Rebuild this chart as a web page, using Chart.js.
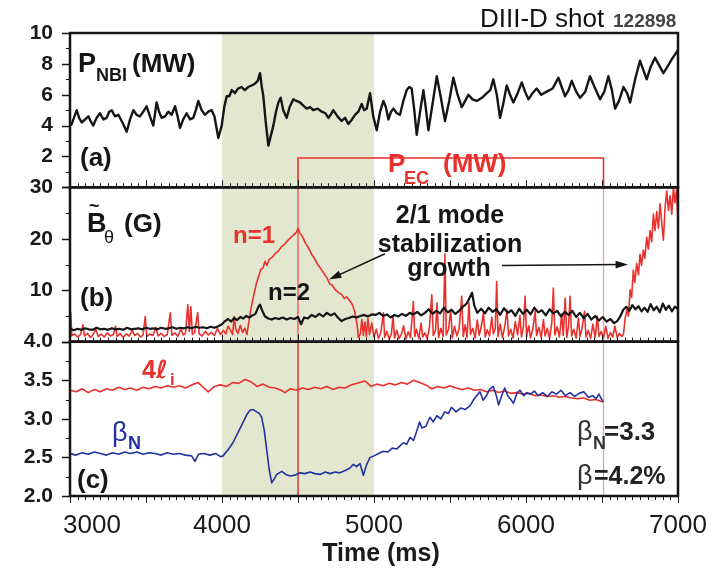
<!DOCTYPE html>
<html lang="en">
<head>
<meta charset="UTF-8">
<title>DIII-D shot 122898</title>
<script src="https://cdn.jsdelivr.net/npm/chart.js@4"></script>
<style>
  body { margin: 0; background: #fff; }
  #wrap { width: 717px; height: 569px; }
</style>
</head>
<body>
<div id="wrap"><canvas id="chart" width="717" height="569"></canvas></div>
<script>
// ---- data (time in ms) ----
const xTickLabels = [3000, 4000, 5000, 6000, 7000];
const shadeSpan = [4000, 5000];
const aTicks = [2, 4, 6, 8, 10];
const bTicks = [10, 20, 30];
const cTicks = [2.0, 2.5, 3.0, 3.5, 4.0];

// (a) neutral beam power, MW
const nbiTime = [3000,3011,3044,3060,3077,3100,3121,3135,3153,3175,3197,3220,3241,3258,3274,3296,3318,3345,3373,3395,3417,3438,3460,3482,3504,3526,3548,3570,3586,3603,3625,3647,3669,3691,3708,3724,3745,3767,3790,3811,3828,3844,3866,3888,3910,3932,3950,3965,3976,3998,4015,4031,4048,4064,4085,4105,4129,4150,4172,4195,4215,4235,4250,4262,4272,4288,4305,4320,4338,4355,4371,4386,4403,4425,4445,4469,4490,4513,4535,4557,4580,4601,4630,4656,4680,4700,4715,4732,4760,4787,4810,4831,4855,4875,4897,4919,4935,4952,4974,4995,5018,5040,5062,5078,5095,5112,5128,5150,5171,5193,5215,5232,5248,5265,5281,5303,5325,5340,5358,5385,5413,5440,5467,5495,5522,5550,5577,5600,5621,5648,5676,5710,5742,5765,5785,5808,5829,5850,5873,5895,5917,5945,5972,5994,6016,6043,6070,6100,6136,6175,6213,6235,6257,6280,6301,6330,6356,6390,6421,6455,6487,6515,6542,6565,6586,6612,6641,6665,6685,6718,6750,6772,6794,6820,6849,6876,6904,6930,6959,6980,7000];
const nbiPower = [4.0,4.1,5.0,4.5,4.2,4.4,4.6,4.3,4.0,4.5,4.8,4.4,4.5,4.9,5.0,4.6,4.7,4.2,3.6,4.4,5.0,4.7,4.6,4.9,5.25,4.6,4.0,5.5,4.9,4.5,4.6,4.9,4.7,5.25,4.6,3.85,4.4,4.8,4.4,4.5,5.0,5.6,5.0,4.7,4.9,5.0,4.6,3.8,3.2,4.0,5.2,5.9,5.9,6.3,6.1,6.4,6.5,6.3,6.5,6.6,6.7,6.9,7.4,6.5,5.9,4.2,2.7,3.3,4.0,4.9,5.5,5.8,5.0,4.5,5.2,5.7,5.6,5.5,5.3,5.1,5.2,5.0,5.1,4.9,4.8,4.5,4.7,5.0,4.6,4.3,4.5,4.1,4.4,4.7,4.9,5.4,5.0,5.1,6.1,4.6,3.7,4.9,5.6,5.2,4.4,4.9,5.1,4.8,4.7,5.6,6.3,6.5,6.4,5.0,3.4,4.9,6.3,5.2,3.7,5.4,7.2,5.8,4.3,5.6,7.1,6.0,5.2,5.6,6.0,5.7,5.6,5.8,6.1,6.3,7.0,6.0,4.5,5.4,6.6,6.0,5.5,6.1,6.8,6.2,5.7,6.1,6.4,6.0,6.2,6.4,7.1,6.5,5.9,6.3,6.9,6.2,5.8,6.2,7.2,6.4,5.7,6.2,7.2,6.3,5.1,5.6,6.5,6.1,5.5,7.0,8.2,7.6,7.0,7.8,8.4,7.9,7.4,7.8,8.3,8.6,8.9];

// (a) ECCD power window, MW
const pecTime = [4500, 4500, 6510, 6510];
const pecPower = [0, 1.9, 1.9, 0];

// (b) n=2 amplitude, G
const n2Time = [3000,3025,3050,3075,3100,3125,3150,3175,3200,3225,3250,3275,3300,3325,3350,3375,3400,3425,3450,3475,3500,3525,3550,3575,3600,3625,3650,3675,3700,3725,3750,3775,3800,3825,3850,3875,3900,3925,3950,3975,4000,4020,4040,4060,4080,4100,4120,4140,4160,4180,4200,4220,4240,4250,4265,4283,4305,4327,4350,4375,4400,4425,4450,4475,4500,4520,4540,4565,4590,4615,4640,4665,4690,4715,4740,4765,4787,4810,4835,4860,4885,4910,4935,4960,4985,5010,5035,5060,5085,5110,5135,5160,5185,5210,5235,5260,5285,5310,5335,5360,5385,5410,5435,5460,5485,5510,5535,5560,5585,5610,5630,5645,5660,5680,5705,5730,5755,5780,5805,5830,5855,5880,5905,5930,5955,5980,6005,6030,6055,6080,6105,6130,6155,6180,6205,6230,6255,6280,6305,6330,6355,6380,6405,6430,6455,6480,6505,6530,6555,6580,6600,6620,6640,6660,6680,6700,6720,6740,6760,6780,6800,6820,6840,6860,6880,6900,6920,6940,6960,6980,7000];
const n2Amp = [2.6,2.2,2.5,2.3,2.6,2.4,2.3,2.7,2.4,2.5,2.3,2.6,2.4,2.5,2.3,2.7,2.4,2.5,2.6,2.4,2.7,2.5,2.6,2.4,2.7,2.5,2.6,2.8,2.5,2.7,2.6,2.8,2.6,2.9,2.7,2.8,2.6,2.9,2.7,3.0,3.4,4.0,4.4,3.9,4.6,4.2,4.8,4.5,5.0,4.7,5.1,5.4,6.8,7.2,6.0,4.9,4.5,4.3,4.6,4.4,4.7,4.3,4.6,4.4,4.8,3.4,4.7,4.5,5.2,4.8,5.4,4.9,5.6,5.1,5.5,4.6,4.0,4.4,4.6,4.9,4.7,5.0,5.2,4.9,5.3,5.2,5.6,5.0,5.3,4.7,5.2,4.9,5.4,5.0,5.6,5.3,5.8,5.1,5.6,6.3,5.4,6.0,5.5,6.6,5.7,6.2,5.4,6.0,6.8,7.4,8.6,9.5,7.0,5.6,6.4,5.5,6.6,5.8,6.3,5.2,6.5,5.6,6.1,5.0,6.4,5.4,6.2,5.3,6.6,5.7,6.1,5.1,6.3,5.5,6.0,4.9,5.8,5.2,6.0,4.8,5.6,4.6,5.4,4.3,5.0,4.1,4.8,3.9,4.4,3.6,4.0,4.9,6.2,6.8,6.0,7.1,6.3,6.9,5.9,6.6,5.8,7.3,6.1,6.8,5.7,7.4,6.2,7.0,5.9,6.8,6.3];

// (b) n=1 amplitude, G
const n1Time = [3000,3005,3012,3030,3050,3070,3085,3095,3115,3135,3150,3170,3185,3205,3225,3245,3265,3285,3300,3310,3330,3350,3370,3390,3410,3425,3445,3465,3480,3495,3505,3525,3545,3565,3580,3600,3620,3640,3660,3670,3690,3710,3730,3745,3760,3775,3785,3795,3805,3820,3840,3850,3870,3890,3910,3930,3950,3970,3990,4010,4025,4040,4055,4070,4080,4090,4105,4120,4135,4150,4164,4185,4205,4225,4240,4255,4270,4283,4295,4310,4330,4350,4370,4390,4410,4430,4450,4470,4490,4500,4510,4530,4550,4570,4590,4610,4631,4650,4670,4690,4710,4724,4745,4765,4789,4805,4820,4842,4858,4875,4890,4897,4910,4920,4930,4940,4950,4960,4970,4985,5000,5015,5030,5045,5062,5070,5085,5100,5115,5125,5135,5150,5165,5180,5195,5210,5225,5240,5259,5268,5280,5295,5310,5320,5335,5350,5365,5380,5390,5405,5415,5425,5440,5455,5467,5475,5490,5505,5515,5530,5545,5560,5577,5587,5600,5612,5625,5635,5650,5665,5680,5692,5705,5720,5732,5745,5760,5775,5785,5798,5807,5816,5830,5845,5860,5875,5885,5900,5915,5930,5945,5960,5970,5982,5994,6004,6018,6030,6045,6060,6070,6085,6100,6115,6125,6140,6155,6170,6180,6190,6205,6220,6235,6245,6258,6268,6280,6290,6300,6315,6330,6345,6355,6370,6385,6395,6410,6425,6440,6455,6470,6480,6495,6510,6525,6540,6555,6570,6585,6600,6615,6630,6641,6652,6663,6674,6685,6695,6706,6716,6728,6740,6750,6760,6772,6782,6794,6805,6816,6827,6838,6849,6860,6871,6882,6893,6904,6915,6926,6937,6948,6959,6970,6980,6990,7000];
const n1Amp = [1.0,5.6,1.2,1.5,0.9,1.4,3.3,1.1,1.6,0.8,1.3,2.4,1.0,1.5,0.9,1.7,1.1,1.4,3.0,1.0,1.6,0.8,1.5,1.1,2.2,1.2,1.6,0.9,1.3,4.9,1.0,1.5,1.2,2.8,1.1,1.6,1.0,1.4,5.6,1.2,1.7,1.0,2.5,1.3,1.6,7.2,2.0,6.8,1.4,1.8,5.6,1.5,1.1,2.0,1.3,1.8,1.2,2.6,1.4,2.2,1.5,3.0,2.3,1.4,4.9,2.5,1.6,3.2,1.8,2.6,1.4,5.5,8.5,11.2,12.6,14.0,14.4,15.6,14.8,16.0,16.4,17.1,17.6,18.4,18.9,19.6,20.2,20.7,21.3,22.0,21.2,20.4,19.1,18.2,17.0,16.1,14.9,14.2,13.3,12.4,11.2,11.0,10.1,9.6,9.1,8.4,8.7,7.9,7.2,5.6,3.0,0.8,1.5,4.3,1.2,3.8,1.0,4.5,1.4,3.6,0.9,2.4,0.6,1.8,5.6,0.8,2.0,0.5,1.6,5.0,0.7,2.2,0.6,1.4,3.1,0.5,1.9,0.8,7.8,1.0,2.4,0.6,3.6,0.9,1.7,0.6,2.8,9.1,1.2,2.2,7.5,0.8,2.6,1.0,17.1,1.3,2.4,6.2,0.7,3.0,1.1,2.5,8.8,1.0,3.3,0.8,7.5,1.4,2.6,0.7,4.2,1.2,2.8,5.6,0.9,2.3,1.1,4.8,1.5,2.6,11.7,1.0,3.4,0.8,2.9,6.2,1.1,2.4,0.7,3.9,1.3,5.1,0.9,2.7,8.8,1.0,3.1,0.7,2.5,5.9,1.2,2.8,0.8,4.3,1.1,2.6,0.6,3.8,10.4,1.3,2.9,0.9,5.4,1.2,8.5,0.8,3.0,8.8,1.1,2.4,0.7,4.6,1.0,2.8,5.9,0.9,2.2,0.6,3.4,0.8,5.0,1.0,2.0,0.7,3.0,0.6,1.8,0.9,3.0,0.8,1.6,1.0,1.4,4.5,6.2,5.0,10.1,8.6,13.9,11.5,15.2,13.0,17.0,14.8,17.8,16.2,20.3,18.0,21.6,19.4,24.8,21.6,25.3,22.0,26.8,23.1,19.7,26.0,29.3,25.5,28.4,24.8,30,27.0,29.5,23.5];

// (c) 4 x internal inductance
const liTime = [3000,3040,3080,3120,3160,3200,3240,3280,3320,3360,3400,3440,3480,3520,3560,3600,3640,3680,3720,3760,3800,3844,3880,3910,3950,3990,4030,4070,4110,4151,4190,4230,4270,4310,4350,4390,4414,4450,4490,4530,4570,4610,4650,4690,4730,4770,4810,4850,4890,4941,4980,5020,5060,5100,5140,5180,5220,5259,5300,5340,5380,5420,5460,5500,5540,5580,5620,5660,5700,5740,5780,5820,5860,5900,5940,5980,6020,6060,6100,6140,6180,6220,6260,6300,6340,6380,6420,6460,6500,6510];
const li4 = [3.37,3.35,3.39,3.34,3.38,3.35,3.39,3.37,3.41,3.38,3.40,3.37,3.41,3.39,3.42,3.40,3.43,3.41,3.43,3.40,3.44,3.47,3.40,3.35,3.42,3.44,3.42,3.47,3.46,3.51,3.48,3.42,3.45,3.41,3.40,3.37,3.34,3.39,3.37,3.40,3.38,3.41,3.39,3.42,3.38,3.41,3.40,3.44,3.46,3.49,3.42,3.45,3.43,3.46,3.44,3.47,3.45,3.50,3.47,3.44,3.39,3.42,3.40,3.43,3.40,3.38,3.40,3.37,3.38,3.35,3.37,3.34,3.36,3.33,3.34,3.32,3.33,3.30,3.31,3.29,3.30,3.28,3.29,3.27,3.26,3.27,3.24,3.25,3.22,3.23];

// (c) normalized beta
const betaTime = [3000,3040,3080,3120,3160,3200,3240,3280,3320,3360,3400,3440,3480,3520,3560,3600,3640,3680,3720,3760,3800,3822,3845,3880,3920,3960,3990,4007,4040,4072,4105,4140,4165,4184,4205,4228,4245,4261,4278,4294,4310,4327,4343,4360,4377,4393,4420,4448,4480,4513,4545,4580,4612,4645,4680,4710,4745,4776,4810,4840,4864,4885,4908,4930,4950,4974,5000,5030,5062,5090,5120,5150,5171,5193,5215,5237,5260,5281,5300,5315,5340,5368,5390,5414,5440,5465,5490,5510,5540,5570,5600,5632,5653,5675,5697,5718,5740,5763,5785,5805,5820,5840,5860,5880,5900,5917,5940,5960,5985,6005,6030,6055,6080,6110,6140,6170,6200,6230,6260,6290,6320,6350,6380,6410,6440,6460,6480,6495,6510];
const betaN = [2.55,2.53,2.56,2.54,2.57,2.55,2.53,2.56,2.54,2.57,2.55,2.57,2.54,2.56,2.55,2.53,2.56,2.54,2.55,2.53,2.52,2.45,2.54,2.55,2.53,2.55,2.51,2.52,2.60,2.69,2.82,2.96,3.06,3.11,3.12,3.09,3.07,3.02,2.85,2.60,2.35,2.17,2.22,2.28,2.30,2.32,2.28,2.26,2.27,2.30,2.29,2.31,2.29,2.28,2.31,2.29,2.31,2.30,2.33,2.36,2.41,2.38,2.42,2.27,2.40,2.50,2.52,2.55,2.58,2.57,2.62,2.61,2.65,2.69,2.67,2.76,2.72,2.84,2.96,2.88,2.90,3.02,2.96,3.04,3.00,3.09,3.07,3.15,3.09,3.14,3.12,3.17,3.24,3.30,3.35,3.24,3.30,3.39,3.42,3.30,3.18,3.30,3.40,3.30,3.25,3.20,3.33,3.37,3.30,3.34,3.32,3.36,3.30,3.34,3.29,3.35,3.32,3.37,3.30,3.34,3.29,3.33,3.35,3.28,3.30,3.26,3.32,3.26,3.22];

// ---- helpers ----
const pts = (t, v) => t.map((x, i) => ({ x: x, y: v[i] }));
const FONT = '"Liberation Sans", Arial, sans-serif';
const RED = '#e8312c';
const BLUE = '#2232a0';
const INK = '#151515';

function vline(t, lo, hi) {
    return [{ x: t, y: lo }, { x: t, y: hi }];
}

function line(label, data, axis, color, width) {
    return {
        label: label,
        data: data,
        yAxisID: axis,
        borderColor: color,
        borderWidth: width,
        pointRadius: 0,
        tension: 0,
        borderJoinStyle: 'round',
        fill: false
    };
}

function put(ctx, str, x, y, font, color, align) {
    ctx.font = font;
    ctx.fillStyle = color;
    ctx.textAlign = align || 'left';
    ctx.textBaseline = 'alphabetic';
    ctx.fillText(str, x, y);
}

function arrow(ctx, x0, y0, x1, y1) {
    const ang = Math.atan2(y1 - y0, x1 - x0);
    ctx.beginPath();
    ctx.moveTo(x0, y0);
    ctx.lineTo(x1 - 8 * Math.cos(ang), y1 - 8 * Math.sin(ang));
    ctx.stroke();
    ctx.beginPath();
    ctx.moveTo(x1, y1);
    ctx.lineTo(x1 - 13 * Math.cos(ang - 0.3), y1 - 13 * Math.sin(ang - 0.3));
    ctx.lineTo(x1 - 13 * Math.cos(ang + 0.3), y1 - 13 * Math.sin(ang + 0.3));
    ctx.closePath();
    ctx.fill();
}

// shading, frames, tick marks and annotations
const panels = {
    id: 'panels',
    beforeDatasetsDraw(chart) {
        const { ctx, chartArea: a, scales: { x } } = chart;
        const x0 = x.getPixelForValue(shadeSpan[0]);
        const x1 = x.getPixelForValue(shadeSpan[1]);
        ctx.save();
        ctx.fillStyle = '#e3e7cf';
        ctx.fillRect(x0, a.top, x1 - x0, a.bottom - a.top);
        ctx.restore();
    },
    afterDatasetsDraw(chart) {
        const { ctx, chartArea: a, scales } = chart;
        const x = scales.x;
        ctx.save();
        ctx.strokeStyle = INK;

        // time ticks on the bottom edge of each panel
        ctx.lineWidth = 1;
        ['ya', 'yb', 'yc'].forEach(id => {
            const s = scales[id];
            const out = id === 'yc';
            for (let t = 3000; t <= 7000; t += 50) {
                const px = Math.round(x.getPixelForValue(t)) + 0.5;
                const len = t % 500 === 0 ? 7 : 4;
                ctx.beginPath();
                ctx.moveTo(px, s.bottom);
                ctx.lineTo(px, out ? s.bottom + len : s.bottom - len);
                ctx.stroke();
            }
        });

        // left ticks, pointing out
        const spec = { ya: [1, 2], yb: [5, 10], yc: [0.25, 0.5] };
        Object.keys(spec).forEach(id => {
            const s = scales[id];
            const [minor, major] = spec[id];
            const n = Math.round((s.max - s.min) / minor);
            for (let i = 0; i <= n; i++) {
                const v = s.min + i * minor;
                const py = Math.round(s.getPixelForValue(v)) + 0.5;
                const isMajor = Math.abs(v / major - Math.round(v / major)) < 1e-6;
                ctx.lineWidth = isMajor ? 1.5 : 1;
                ctx.beginPath();
                ctx.moveTo(a.left, py);
                ctx.lineTo(a.left - (isMajor ? 8 : 4), py);
                ctx.stroke();
            }
        });

        // panel frames
        ctx.lineWidth = 2.5;
        ['ya', 'yb', 'yc'].forEach(id => {
            const s = scales[id];
            ctx.strokeRect(a.left, s.top, a.right - a.left, s.bottom - s.top);
        });
        ctx.restore();
    },
    afterDraw(chart) {
        const { ctx, chartArea: a, scales } = chart;
        const x = scales.x;
        const yb = scales.yb;
        ctx.save();

        // time tick labels
        xTickLabels.forEach((v, i) => {
            const px = x.getPixelForValue(v);
            if (i === 0) {
                put(ctx, String(v), px - 7, 533, '26px ' + FONT, '#1a1a1a', 'left');
            } else {
                put(ctx, String(v), px, 533, '26px ' + FONT, '#1a1a1a', 'center');
            }
        });
        put(ctx, 'Time (ms)', 381, 561, 'bold 25px ' + FONT, '#1a1a1a', 'center');

        // heading
        put(ctx, 'DIII-D shot', 480, 27, '26px ' + FONT, '#111', 'left');
        put(ctx, '122898', 613, 27, 'bold 19px ' + FONT, '#444', 'left');

        // panel (a)
        put(ctx, 'P', 78, 72, 'bold 27px ' + FONT, INK);
        put(ctx, 'NBI', 96, 81, 'bold 18px ' + FONT, INK);
        put(ctx, '(MW)', 132, 72, 'bold 26px ' + FONT, INK);
        put(ctx, '(a)', 80, 166, 'bold 26px ' + FONT, INK);
        put(ctx, 'P', 388, 172, 'bold 26px ' + FONT, RED);
        put(ctx, 'EC', 404, 184, 'bold 18px ' + FONT, RED);
        put(ctx, '(MW)', 443, 172, 'bold 26px ' + FONT, RED);

        // panel (b)
        put(ctx, 'B', 87, 232, 'bold 27px ' + FONT, INK);
        put(ctx, '~', 89, 212, 'bold 18px ' + FONT, INK);
        put(ctx, 'θ', 104, 243, '18px ' + FONT, INK);
        put(ctx, '(G)', 124, 232, 'bold 26px ' + FONT, INK);
        put(ctx, '(b)', 80, 306, 'bold 26px ' + FONT, INK);
        put(ctx, 'n=1', 233, 243, 'bold 24px ' + FONT, RED);
        put(ctx, 'n=2', 268, 300, 'bold 24px ' + FONT, INK);
        put(ctx, '2/1 mode', 450, 223, 'bold 25px ' + FONT, INK, 'center');
        put(ctx, 'stabilization', 450, 252, 'bold 25px ' + FONT, INK, 'center');
        put(ctx, 'growth', 449, 276, 'bold 25px ' + FONT, INK, 'center');
        ctx.strokeStyle = INK;
        ctx.fillStyle = INK;
        ctx.lineWidth = 1.5;
        arrow(ctx, x.getPixelForValue(5072), yb.getPixelForValue(17.1),
                   x.getPixelForValue(4704), yb.getPixelForValue(12.1));
        arrow(ctx, x.getPixelForValue(5842), yb.getPixelForValue(14.8),
                   x.getPixelForValue(6671), yb.getPixelForValue(15.0));

        // panel (c)
        put(ctx, '4', 142, 378, 'bold 25px ' + FONT, RED);
        put(ctx, 'ℓ', 156, 378, 'italic bold 25px "DejaVu Sans"', RED);
        put(ctx, 'i', 170, 385, 'bold 17px ' + FONT, RED);
        put(ctx, 'β', 112, 441, '27px ' + FONT, BLUE);
        put(ctx, 'N', 128, 449, 'bold 18px ' + FONT, BLUE);
        put(ctx, '(c)', 77, 488, 'bold 26px ' + FONT, INK);
        put(ctx, 'β', 577, 440, '27px ' + FONT, '#333');
        put(ctx, 'N', 593, 449, 'bold 18px ' + FONT, '#333');
        put(ctx, '=3.3', 604, 440, 'bold 26px ' + FONT, '#222');
        put(ctx, 'β', 577, 484, '27px ' + FONT, '#333');
        put(ctx, '=4.2%', 594, 484, 'bold 25px ' + FONT, '#222');
        ctx.restore();
    }
};

const pecOn = pecTime[0];
const pecOff = pecTime[2];

const datasets = [
    line('P_NBI', pts(nbiTime, nbiPower), 'ya', INK, 2.4),
    line('P_EC', pts(pecTime, pecPower), 'ya', RED, 1.6),
    line('n=2', pts(n2Time, n2Amp), 'yb', INK, 2.2),
    line('n=1', pts(n1Time, n1Amp), 'yb', RED, 1.6),
    line('EC on (b)', vline(pecOn, 0, 30), 'yb', '#ec5a57', 1.4),
    line('EC off (b)', vline(pecOff, 0, 30), 'yb', '#f29a98', 1.2),
    line('betaN', pts(betaTime, betaN), 'yc', BLUE, 1.6),
    line('4li', pts(liTime, li4), 'yc', RED, 1.6),
    line('EC on (c)', vline(pecOn, 2, 4), 'yc', '#e8403c', 1.6),
    line('EC off (c)', vline(pecOff, 2, 4), 'yc', '#f29a98', 1.2)
];

function yAxis(min, max, ticks, fmt) {
    return {
        type: 'linear',
        position: 'left',
        stack: 'panels',
        stackWeight: 1,
        min: min,
        max: max,
        grid: { display: false, drawTicks: false },
        border: { display: false },
        afterFit(scale) { scale.width = 70; },
        afterBuildTicks(scale) { scale.ticks = ticks.map(v => ({ value: v })); },
        ticks: {
            autoSkip: false,
            padding: 17,
            color: '#1a1a1a',
            font: { family: FONT, size: 21, weight: 'bold' },
            callback: fmt || (v => v)
        }
    };
}

new Chart(document.getElementById('chart'), {
    type: 'line',
    data: { datasets: datasets },
    options: {
        responsive: false,
        animation: false,
        layout: { padding: { top: 33, right: 39, left: 0, bottom: 0 } },
        plugins: { legend: { display: false }, tooltip: { enabled: false } },
        scales: {
            x: {
                type: 'linear',
                position: 'bottom',
                min: 3000,
                max: 7000,
                grid: { display: false, drawTicks: false },
                border: { display: false },
                ticks: { display: false },
                afterFit(scale) { scale.height = 73; }
            },
            yc: yAxis(2, 4, cTicks, v => Number(v).toFixed(1)),
            yb: yAxis(0, 30, bTicks),
            ya: yAxis(0, 10, aTicks)
        }
    },
    plugins: [panels]
});
</script>
</body>
</html>
